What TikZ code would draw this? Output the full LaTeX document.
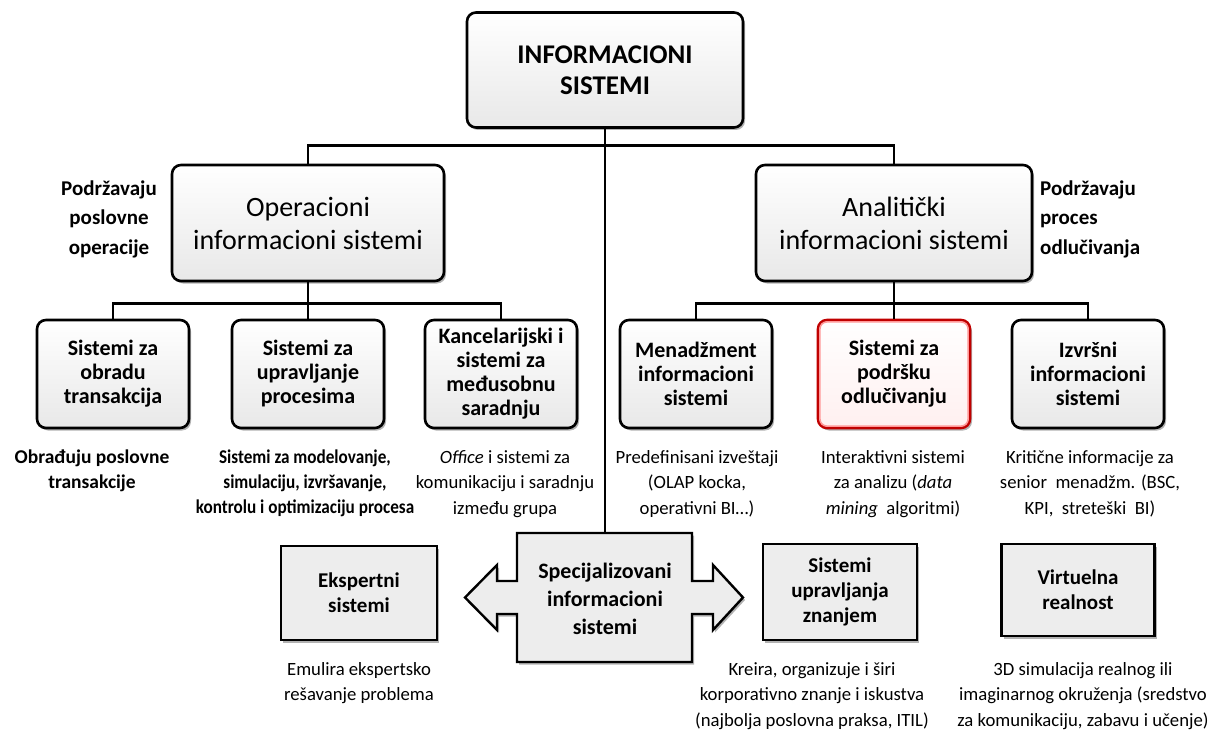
\documentclass[tikz,border=0pt]{standalone}
\usepackage{fontspec}
\setmainfont{Carlito}
\newfontfamily\narrowfont[FakeStretch=0.88]{Carlito}
\usetikzlibrary{shadows,calc}

\definecolor{boxgray}{HTML}{EDEDED}
\definecolor{darkred}{HTML}{C00000}

\tikzset{
  conn/.style={line width=2.4pt, black},
  softshadow/.style={drop shadow={shadow xshift=2pt, shadow yshift=-2.5pt, opacity=0.3, fill=black}},
  rbox/.style={draw=black, line width=2.6pt, rounded corners=9pt,
    top color=white, bottom color=black!9, align=center, inner sep=0pt, softshadow},
  topbox/.style={rbox, minimum width=276pt, minimum height=115pt,
    font=\fontsize{27}{31}\selectfont\bfseries},
  midbox/.style={rbox, minimum width=272pt, minimum height=116pt,
    font=\fontsize{28}{33}\selectfont},
  leafbox/.style={rbox, minimum width=152pt, minimum height=108pt,
    font=\fontsize{22}{24}\selectfont\bfseries},
  sqbox/.style={draw=black, line width=2.4pt, fill=boxgray, align=center,
    inner sep=0pt, softshadow, font=\fontsize{21}{25}\selectfont\bfseries},
  sidelabel/.style={font=\fontsize{21}{29.5}\selectfont\bfseries},
  descb/.style={anchor=north, align=center, inner sep=0pt,
    font=\fontsize{19.5}{25}\selectfont\bfseries},
  desc/.style={anchor=north, align=center, inner sep=0pt,
    font=\fontsize{18.7}{25.5}\selectfont},
}

\begin{document}
\begin{tikzpicture}[x=1pt, y=-1pt]
  \useasboundingbox (0,0) rectangle (1213,738);

  % specialised systems: box with a double arrow
  \draw[line width=2.4pt, fill=boxgray, softshadow, line join=miter]
    (517,533) -- (692,533) -- (692,581) -- (713,581) -- (713,565) -- (743,597.5)
    -- (713,630) -- (713,614) -- (692,614) -- (692,662) -- (517,662)
    -- (517,614) -- (497,614) -- (497,630) -- (465,597.5) -- (497,565)
    -- (497,581) -- (517,581) -- cycle;
  \node[minimum width=175pt, minimum height=129pt, inner sep=0pt, align=center,
    font=\fontsize{22}{28}\selectfont\bfseries] (spec) at (605,599)
    {Specijalizovani\\informacioni\\sistemi};

  % hierarchy
  \node[topbox] (is) at (605,70) {INFORMACIONI\\SISTEMI};
  \node[midbox] (op) at (308,223) {Operacioni\\informacioni sistemi};
  \node[midbox, minimum width=276pt] (an) at (894,223) {Analitički\\informacioni sistemi};

  \node[sidelabel, align=center] (lop) at (109,219) {Podržavaju\\poslovne\\operacije};
  \node[sidelabel, align=left, anchor=west, inner sep=0pt] (lan) at (1040,219) {Podržavaju\\proces\\odlučivanja};

  \node[leafbox] (tps) at (113,374) {Sistemi za\\obradu\\transakcija};
  \node[leafbox] (pcs) at (308,374) {Sistemi za\\upravljanje\\procesima};
  \node[leafbox] (oas) at (501,374) {Kancelarijski i\\sistemi za\\međusobnu\\saradnju};
  \node[leafbox] (mis) at (696,374) {Menadžment\\informacioni\\sistemi};
  \node[leafbox, draw=darkred, bottom color=red!6] (dss) at (894,374) {Sistemi za\\podršku\\odlučivanju};
  \node[leafbox] (eis) at (1088,374) {Izvršni\\informacioni\\sistemi};
  % inner glow of the highlighted box
  \draw[red!40, line width=1.6pt, rounded corners=7pt]
    ($(dss.south west)+(3.2,-3.2)$) rectangle ($(dss.north east)+(-3.2,3.2)$);

  \node[descb] (dtps) at (92,450) {Obrađuju poslovne\\transakcije};
  \node[descb, font=\fontsize{19.5}{25}\narrowfont\bfseries] (dpcs) at (305,450)
    {Sistemi za modelovanje,\\simulaciju, izvršavanje,\\kontrolu i optimizaciju procesa};
  \node[desc] (doas) at (505,450) {\textit{Office} i sistemi za\\komunikaciju i saradnju\\između grupa};
  \node[desc] (dmis) at (697,450) {Predefinisani izveštaji\\(OLAP kocka,\\operativni BI…)};
  \node[desc] (ddss) at (893,450) {Interaktivni sistemi\\za analizu (\textit{data}\\\textit{mining}\ \ algoritmi)};
  \node[desc] (deis) at (1090,450) {Kritične informacije za\\senior\ \ menadžm. (BSC,\\KPI,\ \ streteški\ \ BI)};

  \node[sqbox, minimum width=156pt, minimum height=94pt] (es) at (359,593) {Ekspertni\\sistemi};
  \node[sqbox, minimum width=154pt, minimum height=96pt] (kms) at (840,592) {Sistemi\\upravljanja\\znanjem};
  \node[sqbox, minimum width=153pt, minimum height=92pt] (vr) at (1078,590) {Virtuelna\\realnost};

  \node[desc] (des) at (359,662) {Emulira ekspertsko\\rešavanje problema};
  \node[desc] (dkms) at (812,662) {Kreira, organizuje i širi\\korporativno znanje i iskustva\\(najbolja poslovna praksa, ITIL)};
  \node[desc] (dvr) at (1083,662) {3D simulacija realnog ili\\imaginarnog okruženja (sredstvo\\za komunikaciju, zabavu i učenje)};

  % connectors
  \draw[conn] (is.south) -- (spec.north);
  \draw[conn] (op.north) -- ++(0,-18) -| (an.north);
  \draw[conn] (op.south) -- ++(0,21) coordinate (ja);
  \draw[conn] (tps.north) |- (ja) -| (oas.north);
  \draw[conn] (ja) -- (pcs.north);
  \draw[conn] (an.south) -- ++(0,21) coordinate (jb);
  \draw[conn] (mis.north) |- (jb) -| (eis.north);
  \draw[conn] (jb) -- (dss.north);
\end{tikzpicture}
\end{document}
